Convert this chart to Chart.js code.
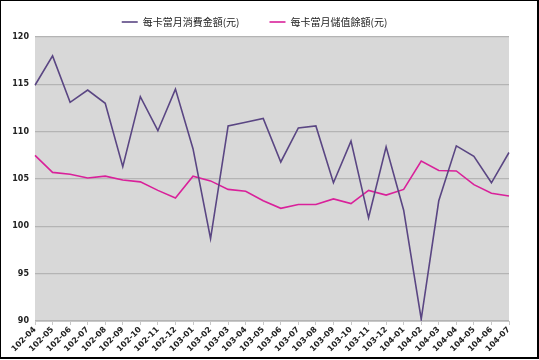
<!DOCTYPE html>
<html>
<head>
<meta charset="utf-8">
<script src="https://cdn.jsdelivr.net/npm/chart.js@4/dist/chart.umd.min.js"></script>
<style>
  html, body { margin: 0; padding: 0; background: #fff; }
  #wrap { position: relative; width: 539px; height: 360px; }
  #frame { position: absolute; left: 0; top: 0; width: 536px; height: 356px; border: 1px solid #000; border-right-width: 2px; border-bottom-width: 2px; pointer-events: none; }
</style>
</head>
<body>
<div id="wrap">
  <canvas id="cardChart" width="539" height="360"></canvas>
  <div id="frame"></div>
</div>
<script>
// 月份 (民國年-月)
const months = ['102-04','102-05','102-06','102-07','102-08','102-09','102-10','102-11','102-12',
  '103-01','103-02','103-03','103-04','103-05','103-06','103-07','103-08','103-09','103-10','103-11','103-12',
  '104-01','104-02','104-03','104-04','104-05','104-06','104-07'];

// 每卡當月消費金額(元)
const spendPerCard = [114.9, 118.0, 113.1, 114.4, 113.0, 106.3, 113.7, 110.1, 114.5,
  108.2, 98.7, 110.6, 111.0, 111.4, 106.8, 110.4, 110.6, 104.6, 109.0, 100.9, 108.4,
  101.7, 90.2, 102.7, 108.5, 107.4, 104.6, 107.8];

// 每卡當月儲值餘額(元)
const balancePerCard = [107.5, 105.7, 105.5, 105.1, 105.3, 104.9, 104.7, 103.8, 103.0,
  105.3, 104.8, 103.9, 103.7, 102.7, 101.9, 102.3, 102.3, 102.9, 102.4, 103.8, 103.3,
  103.9, 106.9, 105.9, 105.85, 104.4, 103.5, 103.2];

const yTicks = [90, 95, 100, 105, 110, 115, 120];

// 繪圖區灰底
const plotBg = {
  id: 'plotBg',
  beforeDraw(chart) {
    const a = chart.chartArea;
    const ctx = chart.ctx;
    ctx.save();
    ctx.fillStyle = '#d8d8d8';
    ctx.fillRect(a.left, a.top, a.right - a.left, a.bottom - a.top);
    ctx.restore();
  }
};

const ctx = document.getElementById('cardChart').getContext('2d');
new Chart(ctx, {
  type: 'line',
  data: {
    labels: months,
    datasets: [{
      label: '每卡當月消費金額(元)',
      data: spendPerCard,
      borderColor: '#5a4683',
      backgroundColor: '#5a4683',
      borderWidth: 1.6,
      pointRadius: 0,
      tension: 0
    }, {
      label: '每卡當月儲值餘額(元)',
      data: balancePerCard,
      borderColor: '#d9219a',
      backgroundColor: '#d9219a',
      borderWidth: 1.6,
      pointRadius: 0,
      tension: 0
    }]
  },
  options: {
    responsive: false,
    animation: false,
    layout: { padding: { left: 0, right: 30, top: -13, bottom: 0 } },
    plugins: {
      legend: {
        position: 'top',
        align: 'center',
        labels: {
          usePointStyle: true,
          pointStyle: 'line',
          pointStyleWidth: 16,
          boxHeight: 10,
          padding: 30,
          color: '#222',
          font: { family: '"Noto Sans CJK TC", serif', size: 10 }
        }
      },
      tooltip: { enabled: false }
    },
    scales: {
      x: {
        offset: false,
        grid: { drawOnChartArea: false, color: '#c8c8c8', tickLength: 4 },
        border: { color: '#c8c8c8' },
        ticks: {
          maxRotation: 45,
          minRotation: 45,
          autoSkip: false,
          padding: 0,
          color: '#222',
          font: { family: 'Tahoma, "DejaVu Sans", sans-serif', size: 8, weight: 'bold' }
        },
        afterFit(scale) { scale.height = 39; }
      },
      y: {
        min: 90,
        max: 120,
        afterBuildTicks(scale) { scale.ticks = yTicks.map(v => ({ value: v })); },
        grid: { color: '#b4b4b4', lineWidth: 1.2, drawTicks: false },
        border: { display: false },
        ticks: {
          padding: 6,
          color: '#222',
          font: { family: 'Tahoma, "DejaVu Sans", sans-serif', size: 8, weight: 'bold' }
        },
        afterFit(scale) { scale.width = 35; }
      }
    }
  },
  plugins: [plotBg]
});
</script>
</body>
</html>
